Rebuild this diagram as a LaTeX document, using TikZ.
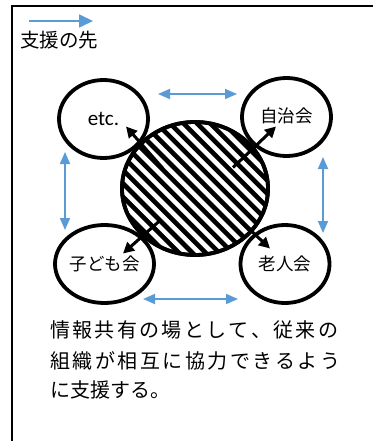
\documentclass[tikz,border=0pt]{standalone}
\usepackage{fontspec}
\newfontfamily\jp{Noto Sans CJK JP}
\newfontfamily\lat{Carlito}
\usetikzlibrary{arrows.meta,shapes.geometric,calc}
\definecolor{supblue}{HTML}{5B9BD5}
\begin{document}
\begin{tikzpicture}[x=1pt,y=-1pt,
  org/.style={ellipse, draw, line width=3.8pt, fill=white, minimum width=89pt, minimum height=78pt, inner sep=0pt, font=\jp\fontsize{17.5}{17.5}\selectfont},
  link/.style={supblue, line width=1.8pt, {Triangle[length=12pt,width=10pt]}-{Triangle[length=12pt,width=10pt]}},
  push/.style={line width=3pt, -{Triangle[length=11pt,width=11pt]}},
  body/.style={anchor=west, inner sep=0pt, font=\jp\fontsize{20}{20}\selectfont}]
\useasboundingbox (0,0) rectangle (373,441);
\fill[white] (0,0) rectangle (373,441);
% frame
\draw[line width=1.6pt] (12,441) -- (12,6) -- (373,6);
% legend
\coordinate (lg1) at (29,21);
\coordinate (lg2) at (93,21);
\draw[supblue, line width=1.8pt, -{Triangle[length=14pt,width=13pt]}] (lg1) -- (lg2);
\node[inner sep=0pt, font=\jp\fontsize{19.5}{19.5}\selectfont] (legend) at (59,40) {支援の先};
% organisations
\node[org] (etc) at (103.5,119) {\lat\fontsize{21}{21}\selectfont etc.};
\node[org] (jichi) at (286.5,117) {\raisebox{3pt}{自治会}};
\node[org] (kodomo) at (104.5,264) {\raisebox{-3pt}{子ども会}};
\node[org] (rojin) at (285,264) {\raisebox{-6pt}{老人会}};
% hub
\node[ellipse, draw, line width=3.8pt, fill=white, minimum width=146pt, minimum height=133pt, inner sep=0pt,
  path picture={\foreach \i in {-16,...,16}{\draw[line width=4.6pt] ($(path picture bounding box.center)+(\i*13.4-110,-110)$) -- ++(220,220);}}]
  (hub) at (195,188.5) {};
\draw[line width=3.8pt] (hub) ellipse (73pt and 66.5pt);
% push arrows
\draw[push] ($(hub.center)+(-32,-20)$) -- ($(hub.center)+(-69,-62)$);
\draw[push] ($(hub.center)+(38,-21)$) -- ($(hub.center)+(81,-62)$);
\draw[push] ($(hub.center)+(-35,32)$) -- ($(hub.center)+(-72,65)$);
\draw[push] ($(hub.center)+(42,29)$) -- ($(hub.center)+(75,60)$);
% links
\coordinate (t1) at (158,94); \coordinate (t2) at (237,94);
\coordinate (b1) at (143,299); \coordinate (b2) at (238,299);
\coordinate (l1) at (65,152); \coordinate (l2) at (65,230);
\coordinate (r1) at (323,157); \coordinate (r2) at (323,233);
\draw[link] (t1) -- (t2);
\draw[link] (b1) -- (b2);
\draw[link] (l1) -- (l2);
\draw[link] (r1) -- (r2);
% text
\node[body] (line1) at (50,330) {\makebox[288pt][s]{情\hfill 報\hfill 共\hfill 有\hfill の\hfill 場\hfill と\hfill し\hfill て\hfill 、\hfill 従\hfill 来\hfill の}};
\node[body] (line2) at (50,360.5) {\makebox[290pt][s]{組\hfill 織\hfill が\hfill 相\hfill 互\hfill に\hfill 協\hfill 力\hfill で\hfill き\hfill る\hfill よ\hfill う}};
\node[body] (line3) at (50,390) {に支援する。};
\end{tikzpicture}
\end{document}
